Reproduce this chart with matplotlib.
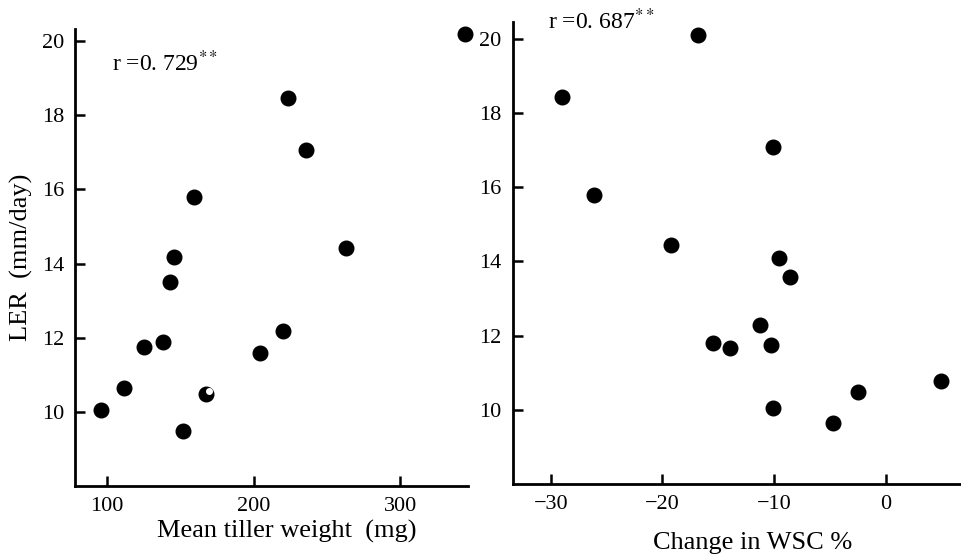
import matplotlib
matplotlib.use("Agg")
import matplotlib.pyplot as plt
import matplotlib.transforms as mtransforms

# ── Data ────────────────────────────────────────────────────────────────────

tiller_weight = [344.5, 223.5, 235.8, 159.4, 263.0, 145.7, 143.0, 220.0,
                 125.0, 138.0, 204.0, 111.6, 96.0, 152.0]
ler_left = [20.2, 18.47, 17.07, 15.8, 14.43, 14.17, 13.5, 12.18,
            11.75, 11.88, 11.6, 10.65, 10.05, 9.49]
# the half-open point
special_weight = [167.6]
special_ler = [10.48]

wsc_change = [-28.95, -16.84, -10.1, -26.14, -19.24, -9.61, -8.57, -11.32,
              -15.44, -14.0, -10.3, -10.12, -4.75, -2.5, 4.96]
ler_right = [18.42, 20.1, 17.08, 15.8, 14.45, 14.09, 13.59, 12.29,
             11.8, 11.66, 11.74, 10.05, 9.64, 10.48, 10.78]

left_xticks = [100, 200, 300]
right_xticks = [-30, -20, -10, 0]
right_xticklabels = ["\u221230", "\u221220", "\u221210", "0"]
yticks = [10, 12, 14, 16, 18, 20]

# ── Style ───────────────────────────────────────────────────────────────────

plt.rcParams["font.family"] = ["Liberation Serif", "DejaVu Serif"]
plt.rcParams["mathtext.fontset"] = "stix"

fig = plt.figure(figsize=(9.62, 5.6), dpi=100)
ax1 = fig.add_axes([0.078, 0.132, 0.408, 0.816])
ax2 = fig.add_axes([0.533, 0.136, 0.467, 0.825])


def style(ax):
    for side in ("top", "right"):
        ax.spines[side].set_visible(False)
    for side in ("left", "bottom"):
        ax.spines[side].set_linewidth(2.0)
    ax.tick_params(direction="in", length=7, width=1.8, labelsize=16, pad=8)
    ax.set_yticks(yticks)


MS = 10.5

# Left panel
ax1.plot(tiller_weight, ler_left, "o", color="black", ms=MS, clip_on=False)
ax1.plot(special_weight, special_ler, "o", color="black", ms=MS, clip_on=False)
shift = mtransforms.ScaledTranslation(2.0 / 72, 2.0 / 72, fig.dpi_scale_trans)
ax1.plot(special_weight, special_ler, "o", color="white", ms=4,
         transform=ax1.transData + shift)
ax1.set_xlim(78, 346)
ax1.set_ylim(8.0, 20.32)
ax1.set_xticks(left_xticks)
style(ax1)
ax1.set_xlabel("Mean tiller weight  (mg)", fontsize=19, labelpad=3)
ax1.xaxis.label.set_x(0.54)
ax1.set_ylabel("LER  (mm/day)", fontsize=19, labelpad=6)
ax1.text(0.095, 0.925, r"r =0. 729$^{**}$", transform=ax1.transAxes,
         fontsize=17, va="center", ha="left")

# Right panel
ax2.plot(wsc_change, ler_right, "o", color="black", ms=MS, clip_on=False)
ax2.set_xlim(-33.4, 6.8)
ax2.set_ylim(8.0, 20.46)
ax2.set_xticks(right_xticks)
ax2.set_xticklabels(right_xticklabels)
style(ax2)
ax2.set_xlabel("Change in WSC %", fontsize=19, labelpad=13)
ax2.xaxis.label.set_x(0.535)
ax2.text(0.078, 1.0, r"r =0. 687$^{**}$", transform=ax2.transAxes,
         fontsize=17, va="center", ha="left", clip_on=False)

fig.savefig("out.png", dpi=100)
